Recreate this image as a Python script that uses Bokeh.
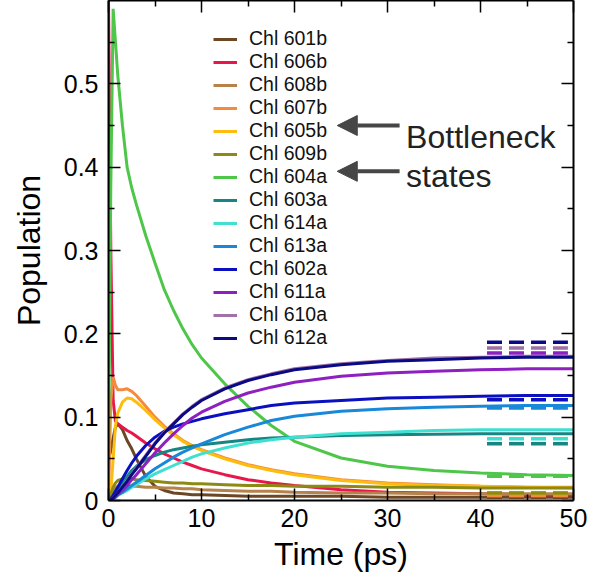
from bokeh.plotting import figure
from bokeh.models import Range1d, LinearAxis, FixedTicker, Arrow, NormalHead, Label
from bokeh.embed import file_html
from bokeh.resources import INLINE

# ---------------- data ----------------
time_ps = [0, 0.25, 0.5, 0.75, 1, 1.5, 2, 2.5, 3, 4, 5, 6, 7, 8, 9, 10,
           12.5, 15, 17.5, 20, 25, 30, 35, 40, 45, 50]

names = ["Chl 601b", "Chl 606b", "Chl 608b", "Chl 607b", "Chl 605b", "Chl 609b",
         "Chl 604a", "Chl 603a", "Chl 614a", "Chl 613a", "Chl 602a", "Chl 611a",
         "Chl 610a", "Chl 612a"]

pop_601b = [0.05, 0.06, 0.075, 0.088, 0.092, 0.085, 0.072, 0.062, 0.050, 0.029, 0.017, 0.012, 0.009, 0.008, 0.007, 0.007,
            0.006, 0.005, 0.005, 0.005, 0.005, 0.004, 0.004, 0.004, 0.004, 0.004]
pop_606b = [0.60, 0.30, 0.12, 0.095, 0.092, 0.088, 0.084, 0.081, 0.077, 0.069, 0.062, 0.056, 0.051, 0.046, 0.042, 0.038,
            0.031, 0.025, 0.021, 0.018, 0.013, 0.010, 0.009, 0.008, 0.007, 0.007]
pop_608b = [0.0, 0.006, 0.012, 0.015, 0.017, 0.018, 0.018, 0.017, 0.017, 0.016, 0.016, 0.015, 0.015, 0.014, 0.014, 0.013,
            0.012, 0.011, 0.011, 0.010, 0.009, 0.009, 0.008, 0.008, 0.008, 0.008]
pop_607b = [0.0, 0.12, 0.148, 0.138, 0.133, 0.133, 0.134, 0.131, 0.126, 0.113, 0.100, 0.089, 0.080, 0.072, 0.066, 0.061,
            0.051, 0.043, 0.037, 0.032, 0.025, 0.021, 0.019, 0.017, 0.016, 0.016]
pop_605b = [0.0, 0.01, 0.05, 0.09, 0.105, 0.118, 0.123, 0.122, 0.118, 0.108, 0.097, 0.087, 0.079, 0.071, 0.065, 0.060,
            0.050, 0.042, 0.036, 0.031, 0.024, 0.020, 0.018, 0.017, 0.016, 0.015]
pop_609b = [0.0, 0.008, 0.016, 0.021, 0.024, 0.026, 0.026, 0.026, 0.025, 0.024, 0.023, 0.022, 0.021, 0.021, 0.020, 0.020,
            0.019, 0.018, 0.018, 0.017, 0.017, 0.016, 0.016, 0.015, 0.015, 0.015]
pop_604a = [0.05, 0.38, 0.59, 0.55, 0.51, 0.45, 0.40, 0.375, 0.355, 0.318, 0.285, 0.253, 0.228, 0.206, 0.187, 0.171,
            0.140, 0.113, 0.090, 0.071, 0.051, 0.041, 0.036, 0.033, 0.031, 0.030]
pop_603a = [0.0, 0.002, 0.006, 0.010, 0.014, 0.022, 0.029, 0.036, 0.041, 0.049, 0.054, 0.058, 0.061, 0.063, 0.065, 0.067,
            0.070, 0.073, 0.075, 0.076, 0.078, 0.079, 0.0795, 0.080, 0.080, 0.080]
pop_614a = [0.0, 0.001, 0.003, 0.004, 0.006, 0.009, 0.012, 0.016, 0.019, 0.026, 0.032, 0.037, 0.042, 0.047, 0.052, 0.056,
            0.063, 0.069, 0.073, 0.076, 0.080, 0.082, 0.084, 0.085, 0.085, 0.085]
pop_613a = [0.0, 0.001, 0.003, 0.005, 0.007, 0.010, 0.014, 0.018, 0.022, 0.030, 0.038, 0.045, 0.052, 0.058, 0.063, 0.068,
            0.079, 0.088, 0.096, 0.101, 0.107, 0.110, 0.112, 0.113, 0.114, 0.114]
pop_602a = [0.0, 0.002, 0.006, 0.011, 0.016, 0.026, 0.036, 0.045, 0.053, 0.066, 0.076, 0.083, 0.088, 0.092, 0.095, 0.098,
            0.104, 0.109, 0.114, 0.117, 0.120, 0.123, 0.124, 0.125, 0.126, 0.126]
pop_611a = [0.0, 0.001, 0.002, 0.004, 0.007, 0.012, 0.018, 0.025, 0.031, 0.044, 0.057, 0.069, 0.080, 0.090, 0.099, 0.106,
            0.119, 0.129, 0.136, 0.142, 0.149, 0.153, 0.155, 0.157, 0.158, 0.158]
pop_610a = [0.0, 0.001, 0.003, 0.006, 0.009, 0.016, 0.024, 0.032, 0.039, 0.054, 0.069, 0.082, 0.093, 0.104, 0.113, 0.121,
            0.135, 0.145, 0.152, 0.158, 0.164, 0.168, 0.171, 0.172, 0.173, 0.173]
pop_612a = [0.0, 0.001, 0.003, 0.006, 0.009, 0.016, 0.023, 0.031, 0.038, 0.053, 0.068, 0.081, 0.092, 0.103, 0.112, 0.120,
            0.134, 0.144, 0.151, 0.157, 0.163, 0.167, 0.169, 0.171, 0.172, 0.172]

# equilibrium populations (dashed marks at the right)
equilibrium = [0.004, 0.005, 0.007, 0.006, 0.009, 0.009, 0.029, 0.068, 0.074, 0.111, 0.121, 0.177, 0.183, 0.190]

x_ticks = [0, 10, 20, 30, 40, 50]
x_minor = [5, 15, 25, 35, 45]
y_ticks = [0, 0.1, 0.2, 0.3, 0.4, 0.5]
y_minor = [0.05, 0.15, 0.25, 0.35, 0.45, 0.55]
y_tick_labels = ["0", "0.1", "0.2", "0.3", "0.4", "0.5"]

# ---------------- styles ----------------
colors = ["#6b4726", "#e8174b", "#b4824a", "#f58a3c", "#fdbd10", "#8c8a14", "#4ec64a",
          "#168684", "#40e0d0", "#1888d8", "#0a10c0", "#8e1fc0", "#a070a6", "#0a0a84"]
series = [pop_601b, pop_606b, pop_608b, pop_607b, pop_605b, pop_609b, pop_604a,
          pop_603a, pop_614a, pop_613a, pop_602a, pop_611a, pop_610a, pop_612a]

FONT = "Liberation Sans"
EQ_T0, EQ_T1 = 40.7, 49.4

p = figure(width=598, height=574, x_range=Range1d(0, 50), y_range=Range1d(0, 0.6),
           output_backend="svg", toolbar_location=None,
           min_border_left=108, min_border_right=25, min_border_top=0, min_border_bottom=74)
p.grid.visible = False
p.outline_line_color = None
p.background_fill_color = "white"
p.border_fill_color = "white"

for name, ys, c in zip(names, series, colors):
    p.line(time_ps, ys, line_color=c, line_width=3, legend_label=name)

p.segment(x0=[EQ_T0] * len(equilibrium), y0=equilibrium,
          x1=[EQ_T1] * len(equilibrium), y1=equilibrium,
          line_color=colors, line_width=3.5, line_dash="15 7")


def style_axis(ax, labelled):
    ax.axis_line_width = 2
    ax.axis_line_color = "black"
    ax.major_tick_in = 12
    ax.major_tick_out = 0
    ax.minor_tick_in = 6
    ax.minor_tick_out = 0
    ax.major_tick_line_width = 1.5
    ax.minor_tick_line_width = 1.5
    ax.major_tick_line_color = "black"
    ax.minor_tick_line_color = "black"
    if labelled:
        ax.major_label_text_font = FONT
        ax.major_label_text_font_size = "25px"
        ax.major_label_text_color = "black"
        ax.axis_label_text_font = FONT
        ax.axis_label_text_font_size = "32px"
        ax.axis_label_text_font_style = "normal"
        ax.axis_label_text_color = "black"
    else:
        ax.major_label_text_font_size = "1px"
        ax.major_label_text_color = None
        ax.major_label_standoff = 0


xa = p.xaxis[0]
xa.ticker = FixedTicker(ticks=x_ticks, minor_ticks=x_minor)
xa.axis_label = "Time (ps)"
style_axis(xa, True)
xa.major_label_standoff = 8
xa.axis_label_standoff = 6

ya = p.yaxis[0]
ya.ticker = FixedTicker(ticks=y_ticks, minor_ticks=y_minor)
ya.axis_label = "Population"
ya.major_label_overrides = {v: s for v, s in zip(y_ticks, y_tick_labels)}
style_axis(ya, True)
ya.major_label_standoff = 10
ya.axis_label_standoff = 14

top_ax = LinearAxis(ticker=FixedTicker(ticks=x_ticks, minor_ticks=x_minor))
style_axis(top_ax, False)
p.add_layout(top_ax, "above")
right_ax = LinearAxis(ticker=FixedTicker(ticks=y_ticks, minor_ticks=y_minor))
style_axis(right_ax, False)
p.add_layout(right_ax, "right")

lg = p.legend[0]
lg.location = (105, 151)
lg.border_line_color = None
lg.background_fill_alpha = 0
lg.padding = 0
lg.margin = 0
lg.spacing = 0
lg.glyph_width = 24
lg.glyph_height = 22
lg.label_height = 22
lg.label_standoff = 12
lg.label_text_font = FONT
lg.label_text_font_size = "19.5px"
lg.label_text_color = "#111111"

# annotation: bottleneck arrows
ARROW_COLOR = "#464646"
for yy in [0.450, 0.395]:
    p.add_layout(Arrow(end=NormalHead(size=20, fill_color=ARROW_COLOR, line_color=ARROW_COLOR),
                       x_start=31.3, y_start=yy, x_end=24.6, y_end=yy,
                       line_color=ARROW_COLOR, line_width=4))
p.add_layout(Label(x=32.0, y=0.436, text="Bottleneck", text_font=FONT, text_font_size="32px",
                   text_color="#222222", text_baseline="alphabetic"))
p.add_layout(Label(x=32.0, y=0.390, text="states", text_font=FONT, text_font_size="32px",
                   text_color="#222222", text_baseline="alphabetic"))

open("out.html", "w").write(file_html(p, INLINE))
